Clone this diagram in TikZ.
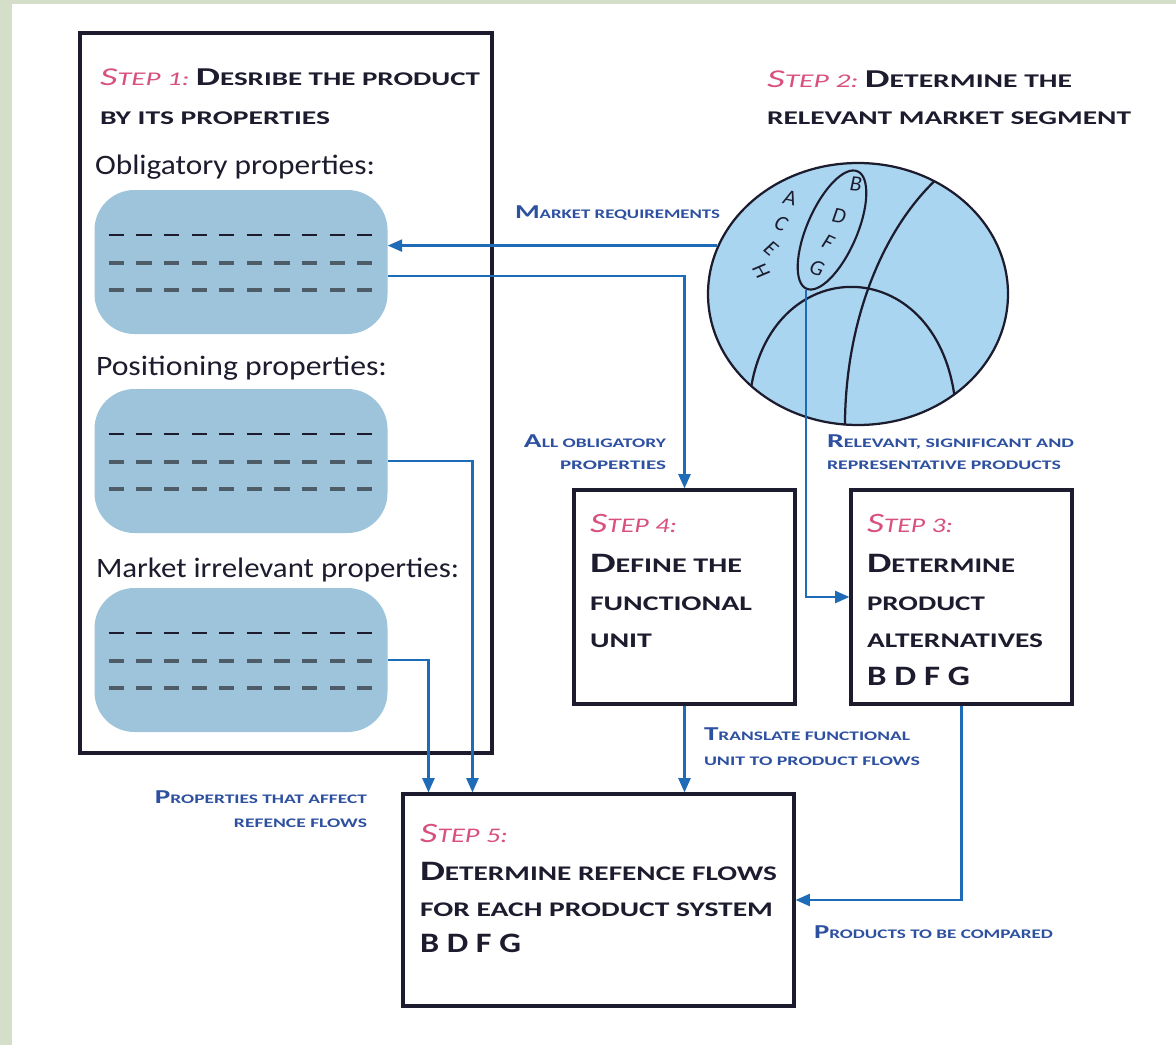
\documentclass[tikz,border=0pt]{standalone}
\usepackage{fontspec}
\setmainfont{Carlito}
\usepackage{graphicx}
\usetikzlibrary{arrows.meta,shapes.geometric,calc}

\definecolor{bgside}{HTML}{D5DEC9}
\definecolor{pinkstep}{HTML}{D9507F}
\definecolor{ink}{HTML}{1C1C2E}
\definecolor{bluelbl}{HTML}{2D50A0}
\definecolor{bluearr}{HTML}{1E6BB8}
\definecolor{blobfill}{HTML}{9EC4DC}
\definecolor{mktfill}{HTML}{AAD5F0}
\definecolor{dashgray}{HTML}{4E5C67}

% one drawing unit
\newdimen\px \px=0.025cm
% squeeze a line of text to a given width, keeping its height
\newcommand\fitw[2]{\resizebox{#1\px}{\height}{#2}}
% hand-made small capitals in three sizes
\newcommand\Ttl[2]{{\fontsize{18.3}{20}\selectfont #1}{\fontsize{13.8}{15}\selectfont #2}}
\newcommand\Stp[2]{{\fontsize{20}{22}\selectfont #1}{\fontsize{14.8}{16}\selectfont #2}}
\newcommand\Blu[2]{{\fontsize{14}{15}\selectfont #1}{\fontsize{9.3}{11}\selectfont #2}}
\newcommand\Pk[1]{{\color{pinkstep}\mdseries\itshape #1}}

\begin{document}
\begin{tikzpicture}[x=0.025cm,y=-0.025cm,
  txt/.style={inner sep=0pt,outer sep=0pt,anchor=base west},
  title/.style={txt,font=\bfseries,text=ink},
  plain/.style={txt,text=ink,font=\fontsize{20}{22}\selectfont},
  lbl/.style={txt,font=\bfseries,text=bluelbl},
  stepbox/.style={draw=ink,line width=2.2pt,inner sep=0pt},
  blob/.style={fill=blobfill,rounded corners=1cm,inner sep=0pt,
    minimum width=293\px,minimum height=144\px},
  dashA/.style={draw=ink,line width=1.5pt,dash pattern=on 0.38cm off 0.31cm},
  dashB/.style={draw=dashgray,line width=2.2pt,dash pattern=on 0.38cm off 0.31cm},
  arr/.style={draw=bluearr,line width=1.8pt,-{Triangle[length=0.36cm,width=0.3cm]}},
  letter/.style={inner sep=0pt,text=ink,font=\itshape\fontsize{15.5}{15.5}\selectfont}
]
\useasboundingbox (0,0) rectangle (1176,1045);
\fill[bgside] (0,0) rectangle (1176,1045);
\fill[white] (12,4) rectangle (1176,1045);

% ---- step 1 frame with the three property groups
\node[stepbox,minimum width=412\px,minimum height=720\px] (s1) at (286,393) {};
\node[title] (t1a) at (100,86) {\fitw{380}{\Pk{\Ttl{S}{TEP 1:}} \Ttl{D}{ESRIBE THE PRODUCT}}};
\node[title] (t1b) at (100,125) {\fitw{230}{\Ttl{}{BY ITS PROPERTIES}}};

\node[plain] (lob) at (95,174) {\fitw{280}{Obligatory properties:}};
\node[plain] (lpp) at (96,375) {\fitw{291}{Positioning properties:}};
\node[plain] (lmi) at (96,577) {\fitw{363}{Market irrelevant properties:}};

\node[blob] (ob) at (241,262) {};
\node[blob] (pp) at (241,461) {};
\node[blob] (mi) at (241,660) {};
\foreach \b in {ob,pp,mi}{
  \draw[dashA] ($(\b.west)+(14.5,-27)$) -- ++(264,0);
  \draw[dashB] ($(\b.west)+(14.5,1)$) -- ++(264,0);
  \draw[dashB] ($(\b.west)+(14.5,28)$) -- ++(264,0);
}

% ---- step 2: market segment
\node[title] (t2a) at (767,88) {\fitw{305}{\Pk{\Ttl{S}{TEP 2:}} \Ttl{D}{ETERMINE THE}}};
\node[title] (t2b) at (767,125) {\fitw{364}{\Ttl{}{RELEVANT MARKET SEGMENT}}};

\node[draw=ink,line width=1.6pt,fill=mktfill,ellipse,inner sep=0pt,
  minimum width=300\px,minimum height=262\px] (mkt) at (858,294) {};
\begin{scope}
  \clip (858,294) ellipse [x radius=150,y radius=131];
  \draw[ink,line width=1.6pt] (940,176) .. controls (885,225) and (843,320) .. (845,435);
  \draw[ink,line width=1.6pt] (750,395) .. controls (768,250) and (937,250) .. (955,400);
\end{scope}
\node[draw=ink,line width=1.5pt,ellipse,inner sep=0pt,
  minimum width=128\px,minimum height=50\px,rotate=66.5] (bdfg) at (832,230) {};
\node[letter,rotate=-12] (lA) at (790,198) {A};
\node[letter,rotate=-25] (lC) at (781,224) {C};
\node[letter,rotate=-40] (lE) at (771,249) {E};
\node[letter,rotate=-60] (lH) at (761,271) {H};
\node[letter,rotate=-5] (lB) at (856,184) {B};
\node[letter,rotate=-12] (lD) at (839,216) {D};
\node[letter,rotate=-25] (lF) at (828,242) {F};
\node[letter,rotate=-20] (lG) at (817,268) {G};

% ---- steps 4, 3 and 5
\node[stepbox,minimum width=221\px,minimum height=214\px] (s4) at (684.5,597) {};
\node[stepbox,minimum width=221\px,minimum height=214\px] (s3) at (961.5,597) {};
\node[stepbox,minimum width=391\px,minimum height=212\px] (s5) at (598.5,900) {};

\node[title] (s4a) at (590,532) {\fitw{87}{\Pk{\Stp{S}{TEP 4:}}}};
\node[title] (s4b) at (590,572) {\fitw{152}{\Stp{D}{EFINE THE}}};
\node[title] (s4c) at (590,610) {\fitw{162}{\Stp{}{FUNCTIONAL}}};
\node[title] (s4d) at (590,647) {\fitw{62}{\Stp{}{UNIT}}};

\node[title] (s3a) at (867,532) {\fitw{86}{\Pk{\Stp{S}{TEP 3:}}}};
\node[title] (s3b) at (867,572) {\fitw{148}{\Stp{D}{ETERMINE}}};
\node[title] (s3c) at (867,610) {\fitw{118}{\Stp{}{PRODUCT}}};
\node[title] (s3d) at (867,647) {\fitw{176}{\Stp{}{ALTERNATIVES}}};
\node[title] (s3e) at (867,685) {\fitw{103}{\fontsize{20}{22}\selectfont B D F G}};

\node[title] (s5a) at (420,842) {\fitw{88}{\Pk{\Stp{S}{TEP 5:}}}};
\node[title] (s5b) at (420,880) {\fitw{357}{\Stp{D}{ETERMINE REFENCE FLOWS}}};
\node[title] (s5c) at (420,916) {\fitw{353}{\Stp{}{FOR EACH PRODUCT SYSTEM}}};
\node[title] (s5d) at (420,952) {\fitw{101}{\fontsize{20}{22}\selectfont B D F G}};

% ---- connector labels
\node[lbl] (lmr) at (515,218) {\fitw{205}{\Blu{M}{ARKET REQUIREMENTS}}};
\node[lbl,anchor=base east] (lao1) at (666,447) {\fitw{142}{\Blu{A}{LL OBLIGATORY}}};
\node[lbl,anchor=base east] (lao2) at (666,469) {\fitw{106}{\Blu{}{PROPERTIES}}};
\node[lbl] (lrs1) at (827,447) {\fitw{247}{\Blu{R}{ELEVANT, SIGNIFICANT AND}}};
\node[lbl] (lrs2) at (827,469) {\fitw{234}{\Blu{}{REPRESENTATIVE PRODUCTS}}};
\node[lbl] (ltr1) at (704,740) {\fitw{206}{\Blu{T}{RANSLATE FUNCTIONAL}}};
\node[lbl] (ltr2) at (704,765) {\fitw{216}{\Blu{}{UNIT TO PRODUCT FLOWS}}};
\node[lbl,anchor=base east] (lpa1) at (367,803) {\fitw{212}{\Blu{P}{ROPERTIES THAT AFFECT}}};
\node[lbl,anchor=base east] (lpa2) at (367,827) {\fitw{133}{\Blu{}{REFENCE FLOWS}}};
\node[lbl] (lpc) at (814,938) {\fitw{239}{\Blu{P}{RODUCTS TO BE COMPARED}}};

% ---- connectors
\coordinate (in1) at ($(s5.north west)+(27,0)$);
\coordinate (in2) at ($(s5.north west)+(71,0)$);
\draw[arr] (mkt.161.4) -- (mkt.161.4 -| ob.east);
\draw[arr] ($(ob.east)+(0,14)$) -| (s4.north);
\draw[arr] (bdfg.west) |- (s3.west);
\draw[arr] (s4.south) -- (s4.south |- s5.north);
\draw[arr] (s3.south) |- (s5.east);
\draw[arr] (pp.east) -| (in2);
\draw[arr] (mi.east) -| (in1);
\end{tikzpicture}
\end{document}
